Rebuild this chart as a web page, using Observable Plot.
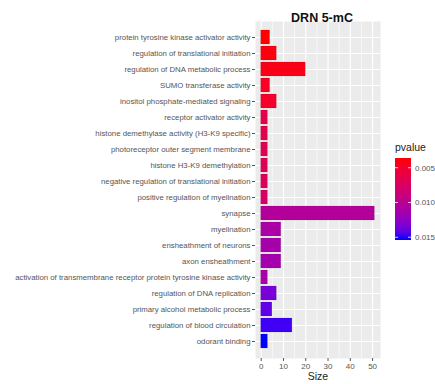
<!DOCTYPE html>
<html>
<head>
<meta charset="utf-8">
<script src="https://cdn.jsdelivr.net/npm/d3@7"></script>
<script src="https://cdn.jsdelivr.net/npm/@observablehq/plot@0.6"></script>
<style>
  body { margin: 0; background: white; }
  #chart { position: relative; width: 435px; height: 384px; }
</style>
</head>
<body>
<div id="chart"></div>
<script>
const categories = [
  "protein tyrosine kinase activator activity",
  "regulation of translational initiation",
  "regulation of DNA metabolic process",
  "SUMO transferase activity",
  "inositol phosphate-mediated signaling",
  "receptor activator activity",
  "histone demethylase activity (H3-K9 specific)",
  "photoreceptor outer segment membrane",
  "histone H3-K9 demethylation",
  "negative regulation of translational initiation",
  "positive regulation of myelination",
  "synapse",
  "myelination",
  "ensheathment of neurons",
  "axon ensheathment",
  "activation of transmembrane receptor protein tyrosine kinase activity",
  "regulation of DNA replication",
  "primary alcohol metabolic process",
  "regulation of blood circulation",
  "odorant binding"
];
const sizes = [4, 7, 20, 4, 7, 3, 3, 3, 3, 3, 3, 51, 9, 9, 9, 3, 7, 5, 14, 3];
const pvalues = [0.0036, 0.0039, 0.0041, 0.0045, 0.0048, 0.0063, 0.0065, 0.0068, 0.0069, 0.0071, 0.0076,
                 0.0104, 0.0110, 0.0113, 0.0114, 0.0112, 0.0135, 0.0142, 0.0149, 0.0154];
const xTicks = [0, 10, 20, 30, 40, 50];
const xMinor = [5, 15, 25, 35, 45];
const legendTicks = [0.005, 0.010, 0.015];
const legendLabels = ["0.005", "0.010", "0.015"];
const title = "DRN 5-mC";
const xLabel = "Size";
const legendTitle = "pvalue";

const data = categories.map((c, i) => ({term: c, size: sizes[i], pvalue: pvalues[i]}));
const pDomain = [d3.min(pvalues), d3.max(pvalues)];
const colorRange = ["#FF0000", "#0000FF"];

const plot = Plot.plot({
  width: 435,
  height: 384,
  marginLeft: 255,
  marginRight: 55,
  marginTop: 21,
  marginBottom: 26,
  style: {fontFamily: "'Liberation Sans', Arial, sans-serif", background: "white"},
  x: {domain: [-2.55, 53.55], label: null},
  y: {domain: categories, paddingInner: 0.1, paddingOuter: 0.15, label: null},
  color: {type: "linear", domain: pDomain, range: colorRange, interpolate: "lab"},
  marks: [
    Plot.frame({fill: "#EBEBEB", stroke: null}),
    Plot.ruleX(xMinor, {stroke: "white", strokeWidth: 0.6}),
    Plot.ruleX(xTicks, {stroke: "white", strokeWidth: 1.2}),
    Plot.gridY({stroke: "white", strokeOpacity: 1, strokeWidth: 1.2}),
    Plot.barX(data, {x: "size", y: "term", fill: "pvalue", stroke: "black", strokeOpacity: 0.15, strokeWidth: 0.6}),
    Plot.axisY({tickSize: 3, tickPadding: 2, fontSize: 7.8, color: "#555"}),
    Plot.axisX({ticks: xTicks, tickSize: 3, tickPadding: 1.5, fontSize: 8, color: "#555"}),
    Plot.text([xLabel], {frameAnchor: "bottom", dy: 21, fontSize: 10.5, fill: "#222"}),
    Plot.text([title], {frameAnchor: "top", dy: -8, dx: 4, fontSize: 12.5, fontWeight: "bold", fill: "#111"})
  ]
});

document.getElementById("chart").appendChild(plot);

// vertical colour-bar legend drawn with the same colour scale
const svg = d3.select(plot);
const color = d3.scaleLinear().domain(pDomain).range(colorRange).interpolate(d3.interpolateLab);
const lx = 395, lw = 16, ly0 = 158, ly1 = 240;
const ly = d3.scaleLinear().domain(pDomain).range([ly0, ly1]);
const defs = svg.append("defs");
const grad = defs.append("linearGradient").attr("id", "pgrad").attr("x1", 0).attr("x2", 0).attr("y1", 0).attr("y2", 1);
d3.range(0, 1.0001, 0.1).forEach(t => {
  grad.append("stop").attr("offset", t).attr("stop-color", color(pDomain[0] + t * (pDomain[1] - pDomain[0])));
});
const lg = svg.append("g").attr("font-family", "'Liberation Sans', Arial, sans-serif").attr("text-anchor", "start");
lg.append("text").attr("x", lx).attr("y", 151).attr("font-size", 10.5).attr("fill", "#222").text(legendTitle);
lg.append("rect").attr("x", lx).attr("y", ly0).attr("width", lw).attr("height", ly1 - ly0).attr("fill", "url(#pgrad)");
legendTicks.forEach((v, i) => {
  const y = ly(v);
  lg.append("line").attr("x1", lx).attr("x2", lx + 3).attr("y1", y).attr("y2", y).attr("stroke", "white").attr("stroke-width", 0.8);
  lg.append("line").attr("x1", lx + lw - 3).attr("x2", lx + lw).attr("y1", y).attr("y2", y).attr("stroke", "white").attr("stroke-width", 0.8);
  lg.append("text").attr("x", lx + lw + 4).attr("y", y).attr("dy", "0.35em").attr("font-size", 8).attr("fill", "#555").text(legendLabels[i]);
});
</script>
</body>
</html>
